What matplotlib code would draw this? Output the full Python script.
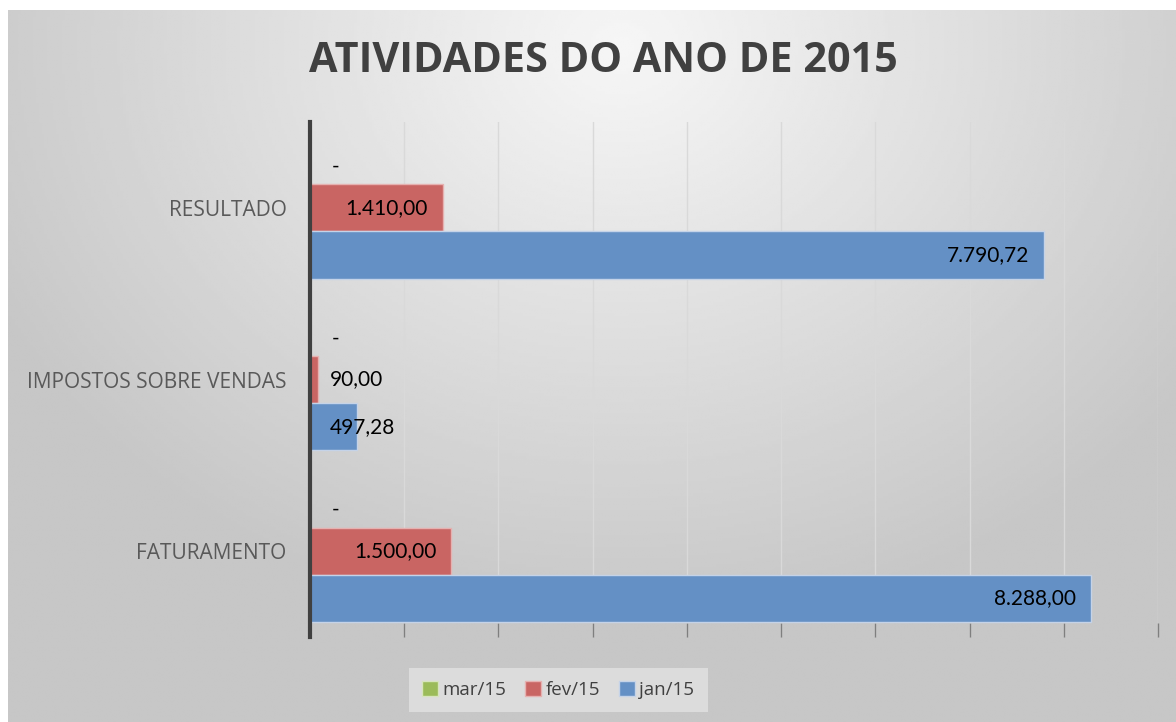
import matplotlib.pyplot as plt
import numpy as np

categories = ['FATURAMENTO', 'IMPOSTOS SOBRE VENDAS', 'RESULTADO']
series_names = ['mar/15', 'fev/15', 'jan/15']
mar15 = [0.0, 0.0, 0.0]
fev15 = [1500.00, 90.00, 1410.00]
jan15 = [8288.00, 497.28, 7790.72]

colors = {'mar/15': '#9bbb59', 'fev/15': '#c96563', 'jan/15': '#6490c5'}
edges = {'mar/15': '#d7e4bd', 'fev/15': '#e6b1b0', 'jan/15': '#c5d3e8'}


def fmt_br(v):
    if v == 0:
        return '-'
    s = f'{v:,.2f}'
    return s.replace(',', 'X').replace('.', ',').replace('X', '.')


fig = plt.figure(figsize=(11.76, 7.22), dpi=100)
fig.patch.set_facecolor('white')

# radial gradient background of the chart area
bg = fig.add_axes([8 / 1176, 0, 1 - 8 / 1176, 1 - 10 / 722])
gx, gy = np.meshgrid(np.linspace(-1, 1, 400), np.linspace(-1, 1, 250))
r = np.sqrt(((gx - 0.05) / 1.1) ** 2 + ((gy + 0.9) / 1.5) ** 2)
shade = np.clip(0.965 - 0.17 * r, 0.78, 0.97)
bg.imshow(shade, cmap='gray', vmin=0, vmax=1, aspect='auto', extent=[0, 1, 0, 1], origin='upper')
bg.set_axis_off()

ax = fig.add_axes([310 / 1176, 85 / 722, 848 / 1176, 515 / 722])
ax.patch.set_alpha(0)

y = np.arange(len(categories))
h = 0.275
offsets = {'mar/15': h, 'fev/15': 0.0, 'jan/15': -h}
data = {'mar/15': mar15, 'fev/15': fev15, 'jan/15': jan15}

for name in series_names:
    vals = data[name]
    ax.barh(y + offsets[name], vals, height=h, color=colors[name],
            edgecolor=edges[name], linewidth=1, label=name, zorder=3)
    for yi, v in zip(y, vals):
        yy = yi + offsets[name]
        if v == 0:
            ax.text(230, yy - 0.035, '-', ha='left', va='center', fontsize=15,
                    family='Lato', color='black', zorder=4)
        elif v > 1000:
            ax.text(v - 160, yy, fmt_br(v), ha='right', va='center', fontsize=15,
                    family='Lato', color='black', zorder=4)
        else:
            ax.text(215, yy, fmt_br(v), ha='left', va='center', fontsize=15,
                    family='Lato', color='black', zorder=4)

ax.set_xlim(0, 9000)
ax.set_ylim(-0.5, 2.5)
ax.set_xticks(np.arange(0, 9001, 1000))
ax.xaxis.grid(True, color='#d9d9d9', linewidth=1, zorder=0)
ax.set_axisbelow(True)
ax.tick_params(axis='x', direction='in', length=10, width=1, color='#7f7f7f',
               labelbottom=False)
ax.tick_params(axis='y', length=0, pad=17)
ax.set_yticks(y)
ax.set_yticklabels(categories, family='Open Sans', fontsize=15, color='#595959')
for s in ['top', 'right', 'bottom']:
    ax.spines[s].set_visible(False)
ax.spines['left'].set_color('#404040')
ax.spines['left'].set_linewidth(3)
ax.spines['left'].set_zorder(5)

fig.text(603 / 1176, 1 - 62 / 722, 'ATIVIDADES DO ANO DE 2015', ha='center', va='center',
         family='Open Sans', fontweight='bold', fontsize=29.8, color='#404040')

handles, labels = ax.get_legend_handles_labels()
leg = fig.legend(handles, labels, loc='center', bbox_to_anchor=(558 / 1176, 1 - 690 / 722),
                 ncol=3, frameon=True, fancybox=False, handlelength=0.85, handleheight=0.85,
                 handletextpad=0.25, columnspacing=1.0, borderpad=0.7,
                 prop={'family': 'Open Sans', 'size': 13.5})
leg.get_frame().set_facecolor('#e2e2e2')
leg.get_frame().set_edgecolor('none')
leg.get_frame().set_alpha(0.8)
for t in leg.get_texts():
    t.set_color('#404040')

fig.savefig('out.png', dpi=100)
